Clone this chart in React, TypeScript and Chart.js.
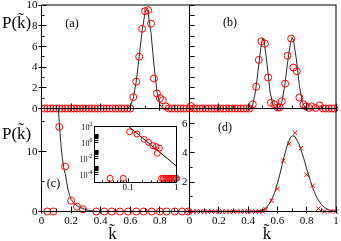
import React, { useEffect, useRef } from 'react';
import { Chart, registerables } from 'chart.js';

Chart.register(...registerables);

const W = 341;
const H = 241;
const FONT = '"Liberation Serif", "Times New Roman", Times, serif';
const RED = '#ff0000';
const INK = '#000000';
const CURVE = '#2a2a2a';

// ---------------- panel (a) ----------------
const aCircK = [0.02, 0.04, 0.06, 0.08, 0.10, 0.12, 0.14, 0.16, 0.18, 0.20, 0.22, 0.24, 0.26, 0.28, 0.30, 0.32, 0.34, 0.36, 0.38, 0.40, 0.42, 0.44, 0.46, 0.48, 0.50, 0.52, 0.54, 0.56, 0.58, 0.60, 0.62, 0.64, 0.66, 0.68, 0.70, 0.72, 0.74, 0.76, 0.78, 0.80, 0.82, 0.84, 0.86, 0.88, 0.90, 0.92, 0.94, 0.96, 0.98, 1.00];
const aCircP = [0, 0, 0, 0, 0, 0, 0, 0, 0, 0, 0, 0, 0, 0, 0, 0, 0, 0, 0, 0, 0, 0, 0, 0, 0, 0, 0, 0, 0, 0, 1.1, 2.6, 5.0, 7.7, 9.4, 9.5, 8.2, 2.9, 1.45, 1.0, 0.8, 0.2, 0, 0, 0, 0, 0, 0, 0, 0];
const aCurveK = [0, 0.58, 0.60, 0.62, 0.64, 0.66, 0.68, 0.70, 0.71, 0.72, 0.74, 0.76, 0.78, 0.80, 0.82, 1.0];
const aCurveP = [0, 0, 0.25, 1.0, 2.6, 5.0, 7.5, 9.3, 9.6, 9.3, 7.3, 4.2, 1.6, 0.4, 0, 0];

// ---------------- panel (b) ----------------
const bCircK = [0.01, 0.03, 0.05, 0.07, 0.09, 0.11, 0.13, 0.15, 0.17, 0.19, 0.21, 0.23, 0.25, 0.27, 0.29, 0.31, 0.33, 0.35, 0.37, 0.39, 0.41, 0.432, 0.455, 0.473, 0.491, 0.514, 0.536, 0.556, 0.579, 0.601, 0.615, 0.63, 0.653, 0.669, 0.694, 0.709, 0.732, 0.75, 0.777, 0.795, 0.815, 0.833, 0.86, 0.889, 0.91, 0.93, 0.95, 0.97, 0.99];
const bCircP = [0.24, 0, 0, 0, 0, 0, 0, 0, 0, 0, 0, 0, 0, 0, 0, 0, 0, 0, 0, 0, 0, 0.4, 2.1, 4.7, 6.5, 6.27, 3.0, 0.55, 0.4, 0.1, 0.1, 0.7, 2.4, 5.1, 6.75, 3.95, 3.6, 1.06, 0.4, 0.2, 0.05, 0.2, 0.05, 0.3, 0, 0, 0, 0, 0];
const bCurveK = [0, 0.41, 0.43, 0.45, 0.47, 0.49, 0.50, 0.51, 0.53, 0.55, 0.57, 0.59, 0.61, 0.63, 0.65, 0.67, 0.69, 0.70, 0.71, 0.73, 0.75, 0.77, 0.79, 0.81, 1.0];
const bCurveP = [0, 0, 0.3, 1.6, 3.9, 6.2, 6.8, 6.5, 4.2, 1.6, 0.3, 0, 0.05, 0.6, 2.2, 4.5, 6.4, 6.85, 6.6, 4.7, 2.2, 0.6, 0.1, 0, 0];

// ---------------- panel (c) ----------------
const cCircK = [0.04, 0.08, 0.12, 0.16, 0.20, 0.24, 0.28, 0.37, 0.425, 0.475, 0.53, 0.585, 0.64, 0.69, 0.745, 0.80, 0.845, 0.90, 0.95, 0.99];
const cCircP = [0, 0, 14.1, 7.5, 1.8, 0.8, 0.37, 0, 0, 0, 0, 0, 0, 0, 0, 0, 0, 0, 0, 0];
const cCurveK = [0.105, 0.114, 0.12, 0.13, 0.14, 0.15, 0.16, 0.17, 0.18, 0.19, 0.20, 0.22, 0.24, 0.26, 0.28, 0.30, 0.32, 0.35, 0.38, 0.42, 1.0];
const cCurveP = [20, 17.2, 14.8, 11.5, 9.0, 7.4, 6.3, 4.9, 3.6, 2.7, 2.0, 1.35, 0.95, 0.7, 0.48, 0.33, 0.2, 0.08, 0.02, 0, 0];

// ---------------- inset of (c) ----------------
const insetCircK = [0.042, 0.079, 0.107, 0.152, 0.214, 0.263, 0.324, 0.38, 0.40, 0.443, 0.49, 0.53, 0.57, 0.62, 0.67, 0.72, 0.78, 0.84, 0.90, 0.96, 1.0];
const insetCircP = [3.3e-5, 3.3e-5, 22, 11.5, 2.5, 1.06, 0.4, 0.3, 0.045, 0.19, 3.3e-5, 3.3e-5, 3.3e-5, 3.3e-5, 3.3e-5, 3.3e-5, 3.3e-5, 3.3e-5, 3.3e-5, 3.3e-5, 3.3e-5];
const insetLineK = [0.1, 1.0];
const insetLineP = [112, 0.0011];

// ---------------- panel (d) ----------------
const dCrossK = [0, 0.025, 0.05, 0.075, 0.1, 0.125, 0.15, 0.175, 0.2, 0.225, 0.25, 0.275, 0.3, 0.325, 0.35, 0.375, 0.4, 0.425, 0.45, 0.475, 0.5, 0.52, 0.56, 0.60, 0.64, 0.68, 0.72, 0.76, 0.80, 0.84, 0.88, 0.92, 0.96, 1.0];
const dCrossP = [0, 0, 0, 0, 0, 0, 0, 0, 0, 0, 0, 0, 0, 0, 0, 0, 0, 0, 0, 0, 0, 0.15, 0.73, 1.53, 3.45, 4.6, 5.35, 4.3, 2.5, 1.75, 0.2, 0, 0, 0];
const dCurveK = [0, 0.45, 0.48, 0.50, 0.52, 0.55, 0.58, 0.61, 0.64, 0.67, 0.69, 0.705, 0.72, 0.75, 0.78, 0.81, 0.84, 0.87, 0.90, 0.93, 0.96, 1.0];
const dCurveP = [0, 0, 0.05, 0.11, 0.23, 0.58, 1.24, 2.26, 3.5, 4.6, 5.05, 5.15, 5.1, 4.53, 3.6, 2.57, 1.63, 0.92, 0.47, 0.21, 0.085, 0.02];

// ---------------- ticks & labels ----------------
const kMajor = [0, 0.2, 0.4, 0.6, 0.8, 1];
const kMinor = [0.1, 0.3, 0.5, 0.7, 0.9];
const cXLabelVals = [0, 0.2, 0.4, 0.6, 0.8];
const cXLabels = ['0', '0.2', '0.4', '0.6', '0.8'];
const dXLabelVals = [0, 0.2, 0.4, 0.6, 0.8, 1];
const dXLabels = ['0', '0.2', '0.4', '0.6', '0.8', '1'];
const aYMajor = [0, 2, 4, 6, 8, 10];
const aYMinor = [1, 3, 5, 7, 9];
const aYLabels = ['0', '2', '4', '6', '8', '10'];
const bYTicks = [0, 1, 2, 3, 4, 5, 6, 7, 8, 9, 10];
const cYMajor = [0, 10];
const cYMinor = [5, 15];
const cYLabels = ['0', '10'];
const dYMajor = [0, 2, 4, 6];
const dYMinor = [1, 3, 5];
const dYLabelVals = [2, 4, 6];
const dYLabels = ['2', '4', '6'];
const insetXMajor = [0.1, 1];
const insetXMinor = [0.02, 0.03, 0.04, 0.05, 0.06, 0.07, 0.08, 0.09, 0.2, 0.3, 0.4, 0.5, 0.6, 0.7, 0.8, 0.9];
const insetXLabels = ['0.1', '1'];
const insetYMajor = [100, 1, 0.01, 0.0001];
const insetYExp = ['2', '0', '-2', '-4'];
const insetYMinor = [2, 3, 4, 5, 6, 7, 8, 9, 0.02, 0.03, 0.04, 0.05, 0.06, 0.07, 0.08, 0.09, 0.0002, 0.0003, 0.0004, 0.0005, 0.0006, 0.0007, 0.0008, 0.0009];

const yLabel = 'P(k\u0303)';
const xLabel = 'k\u0303';

// ---------------- layout (panel rectangles) ----------------
const RA = { l: 41.5, t: 4.5, r: 189.5, b: 108.5 };
const RB = { l: 189.5, t: 4.5, r: 336.5, b: 108.5 };
const RC = { l: 41.5, t: 108.5, r: 189.5, b: 211.5 };
const RD = { l: 189.5, t: 108.5, r: 336.5, b: 211.5 };
const RI = { l: 94.5, t: 126.5, r: 176.5, b: 182.5 };

const tickFont = `11px ${FONT}`;

const framePlugin = {
  id: 'frame',
  afterDatasetsDraw(chart: any, _args: any, o: any) {
    if (!o || !o.on) return;
    const { ctx, chartArea: a } = chart;
    const sx = chart.scales.x;
    const sy = chart.scales.y;
    const snap = (v: number) => Math.round(v - 0.5) + 0.5;
    const seg = (x1: number, y1: number, x2: number, y2: number) => {
      ctx.beginPath();
      ctx.moveTo(x1, y1);
      ctx.lineTo(x2, y2);
      ctx.stroke();
    };
    ctx.save();
    ctx.strokeStyle = INK;
    ctx.lineWidth = 1;
    ctx.strokeRect(a.left, a.top, a.right - a.left, a.bottom - a.top);
    for (const g of o.xTicks || []) {
      for (const v of g.vals) {
        const px = snap(sx.getPixelForValue(v));
        seg(px, a.bottom + (g.out || 0), px, a.bottom - g.len);
      }
    }
    for (const g of o.yTicks || []) {
      for (const v of g.vals) {
        const py = snap(sy.getPixelForValue(v));
        seg(a.left - (g.out || 0), py, a.left + g.len, py);
      }
    }
    ctx.fillStyle = INK;
    if (o.xLabels) {
      ctx.font = o.xLabels.font;
      ctx.textAlign = 'center';
      ctx.textBaseline = 'alphabetic';
      o.xLabels.vals.forEach((v: number, i: number) => {
        ctx.fillText(o.xLabels.texts[i], sx.getPixelForValue(v), o.xLabels.y);
      });
    }
    if (o.yLabels) {
      ctx.font = o.yLabels.font;
      ctx.textAlign = 'right';
      ctx.textBaseline = 'middle';
      o.yLabels.vals.forEach((v: number, i: number) => {
        ctx.fillText(o.yLabels.texts[i], o.yLabels.x, sy.getPixelForValue(v) + 0.5);
      });
    }
    if (o.yExpLabels) {
      const e = o.yExpLabels;
      o.yExpLabels.vals.forEach((v: number, i: number) => {
        const py = sy.getPixelForValue(v);
        ctx.font = e.expFont;
        const ew = ctx.measureText(e.exps[i]).width;
        ctx.textAlign = 'right';
        ctx.textBaseline = 'alphabetic';
        ctx.fillText(e.exps[i], e.x, py - 1);
        ctx.font = e.font;
        ctx.textBaseline = 'middle';
        ctx.fillText('10', e.x - ew, py + 1);
      });
    }
    for (const t of o.texts || []) {
      ctx.font = t.font;
      ctx.textAlign = t.align || 'left';
      ctx.textBaseline = 'alphabetic';
      ctx.fillText(t.t, t.x, t.y);
    }
    ctx.restore();
  },
};

const pts = (xs: number[], ys: number[]) => xs.map((x, i) => ({ x, y: ys[i] }));

const circles = (xs: number[], ys: number[], r = 3.5) => ({
  data: pts(xs, ys),
  showLine: false,
  pointStyle: 'circle',
  pointRadius: r,
  pointBorderColor: RED,
  pointBackgroundColor: 'rgba(0,0,0,0)',
  pointBorderWidth: 1,
  clip: false,
});

const crosses = (xs: number[], ys: number[]) => ({
  data: pts(xs, ys),
  showLine: false,
  pointStyle: 'crossRot',
  pointRadius: 3.2,
  pointBorderColor: RED,
  pointBackgroundColor: RED,
  pointBorderWidth: 1,
  clip: false,
});

const curve = (xs: number[], ys: number[], color = CURVE) => ({
  data: pts(xs, ys),
  showLine: true,
  borderColor: color,
  borderWidth: 1,
  pointRadius: 0,
  tension: 0,
});

function makeConfig(rect: any, xs: any, ys: any, datasets: any[], frame: any) {
  return {
    type: 'scatter',
    data: { datasets },
    options: {
      responsive: false,
      animation: false,
      devicePixelRatio: 1,
      events: [],
      layout: { padding: { left: rect.l, top: rect.t, right: W - rect.r, bottom: H - rect.b } },
      scales: {
        x: { display: false, ...xs },
        y: { display: false, ...ys },
      },
      plugins: {
        legend: { display: false },
        tooltip: { enabled: false },
        frame: { on: true, ...frame },
      },
    },
    plugins: [framePlugin],
  };
}

const kScale = { type: 'linear', min: 0, max: 1 };
const kTicks = [
  { vals: kMajor, len: 5, out: 2 },
  { vals: kMinor, len: 3, out: 0 },
];

const configs = [
  makeConfig(RA, kScale, { type: 'linear', min: 0, max: 10 }, [circles(aCircK, aCircP), curve(aCurveK, aCurveP)], {
    xTicks: kTicks,
    yTicks: [
      { vals: aYMajor, len: 5, out: 3 },
      { vals: aYMinor, len: 3, out: 0 },
    ],
    yLabels: { vals: aYMajor, texts: aYLabels, x: 37.5, font: tickFont },
    texts: [
      { t: yLabel, x: 2, y: 28, font: `17px ${FONT}` },
      { t: yLabel, x: 2, y: 138.5, font: `17px ${FONT}` },
      { t: '(a)', x: 72, y: 26.5, font: `12px ${FONT}`, align: 'center' },
      { t: '(b)', x: 230, y: 26, font: `12px ${FONT}`, align: 'center' },
      { t: '(c)', x: 53.5, y: 187, font: `12px ${FONT}`, align: 'center' },
      { t: '(d)', x: 225, y: 131, font: `12px ${FONT}`, align: 'center' },
      { t: xLabel, x: 112.5, y: 239, font: `17px ${FONT}`, align: 'center' },
      { t: xLabel, x: 267, y: 239, font: `17px ${FONT}`, align: 'center' },
    ],
  }),
  makeConfig(RB, kScale, { type: 'linear', min: 0, max: 10 }, [circles(bCircK, bCircP), curve(bCurveK, bCurveP)], {
    xTicks: kTicks,
    yTicks: [{ vals: bYTicks, len: 5, out: 0 }],
  }),
  makeConfig(RC, kScale, { type: 'linear', min: 0, max: 17.17 }, [circles(cCircK, cCircP), curve(cCurveK, cCurveP)], {
    xTicks: kTicks,
    yTicks: [
      { vals: cYMajor, len: 5, out: 3 },
      { vals: cYMinor, len: 3, out: 0 },
    ],
    yLabels: { vals: cYMajor, texts: cYLabels, x: 37.5, font: tickFont },
    xLabels: { vals: cXLabelVals, texts: cXLabels, y: 224, font: tickFont },
  }),
  makeConfig(RD, kScale, { type: 'linear', min: 0, max: 7 }, [crosses(dCrossK, dCrossP), curve(dCurveK, dCurveP)], {
    xTicks: kTicks,
    yTicks: [
      { vals: dYMajor, len: 5, out: 0 },
      { vals: dYMinor, len: 3, out: 0 },
    ],
    yLabels: { vals: dYLabelVals, texts: dYLabels, x: 187.5, font: tickFont },
    xLabels: { vals: dXLabelVals, texts: dXLabels, y: 224, font: tickFont },
  }),
  makeConfig(RI, { type: 'logarithmic', min: 0.02, max: 1 }, { type: 'logarithmic', min: 1e-5, max: 100 }, [circles(insetCircK, insetCircP, 3), curve(insetLineK, insetLineP, INK)], {
    xTicks: [
      { vals: insetXMajor, len: 4, out: 0 },
      { vals: insetXMinor, len: 2, out: 0 },
    ],
    yTicks: [
      { vals: insetYMajor, len: 4, out: 0 },
      { vals: insetYMinor, len: 4, out: 0 },
    ],
    xLabels: { vals: insetXMajor, texts: insetXLabels, y: 190, font: `9px ${FONT}` },
    yExpLabels: { vals: insetYMajor, exps: insetYExp, x: 92.5, font: `8px ${FONT}`, expFont: `6px ${FONT}` },
  }),
];

export default function App() {
  const refs = useRef<(HTMLCanvasElement | null)[]>([]);
  useEffect(() => {
    const charts = configs.map((cfg, i) => new Chart(refs.current[i] as HTMLCanvasElement, cfg as any));
    return () => charts.forEach((c) => c.destroy());
  }, []);
  return (
    <div style={{ position: 'fixed', left: 0, top: 0, width: W, height: H, background: '#ffffff' }}>
      {configs.map((_, i) => (
        <canvas
          key={i}
          ref={(el) => {
            refs.current[i] = el;
          }}
          width={W}
          height={H}
          style={{ position: 'absolute', left: 0, top: 0, width: W, height: H }}
        />
      ))}
    </div>
  );
}
